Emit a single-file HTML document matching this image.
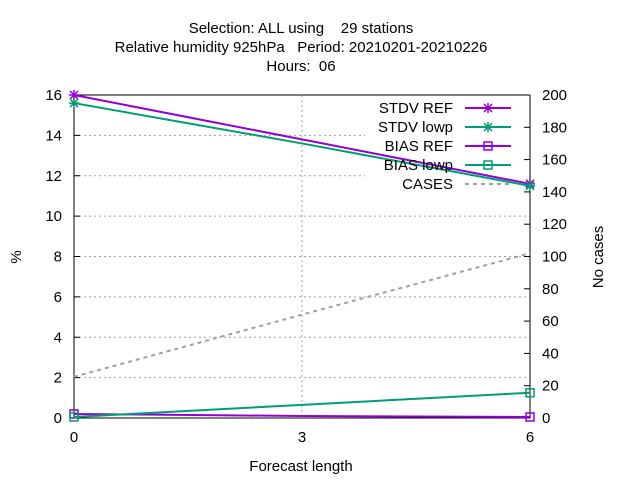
<!DOCTYPE html>
<html><head><meta charset="utf-8"><style>
body{margin:0;background:#fff}
svg{display:block;font-family:"Liberation Sans",sans-serif}
text{white-space:pre}
</style></head><body>
<svg id="c" width="640" height="480" viewBox="0 0 640 480" xmlns="http://www.w3.org/2000/svg" xml:space="preserve">
<text x="301" y="33" font-size="15" text-anchor="middle">Selection: ALL using    29 stations</text>
<text x="301" y="52" font-size="15" text-anchor="middle">Relative humidity 925hPa   Period: 20210201-20210226</text>
<text x="301" y="71" font-size="15" text-anchor="middle">Hours:  06</text>
<text transform="translate(21,257) rotate(-90)" font-size="15" text-anchor="middle">%</text>
<text transform="translate(603,257) rotate(-90)" font-size="15" text-anchor="middle">No cases</text>
<text x="301" y="471" font-size="15" text-anchor="middle">Forecast length</text>
<g id="grid"></g><g id="axes"></g><g id="series"></g><g id="legend"></g>
</svg>
<script>
const xs=[0,3,6];
const stdvRef=[16.0,13.8,11.6];
const stdvLowp=[15.6,13.6,11.5];
const biasRef=[0.2,0.1,0.05];
const biasLowp=[0.05,0.65,1.25];
const cases=[25.5,64,102];
const yTicks=[0,2,4,6,8,10,12,14,16];
const y2Ticks=[0,20,40,60,80,100,120,140,160,180,200];
const xTicks=[0,3,6];
const L=74,R=530,T=95,B=418;
const X=v=>L+(v-0)/6*(R-L);
const Y=v=>B-v/16*(B-T);
const Y2=v=>B-v/200*(B-T);
const NS="http://www.w3.org/2000/svg";
function mk(tag,attrs,parent,text){const e=document.createElementNS(NS,tag);for(const k in attrs)e.setAttribute(k,attrs[k]);if(text!==undefined)e.textContent=text;document.getElementById(parent).appendChild(e);return e;}
yTicks.forEach(v=>{if(v>0&&v<16){const xe=(v>=12)?365:R;
const g=mk('line',{x1:L,x2:xe,y1:Y(v),y2:Y(v),stroke:'#a0a0a0','stroke-dasharray':'2,3','stroke-width':1},'grid');

}
const t=mk('line',{x1:L,x2:L+6,y1:Y(v),y2:Y(v),stroke:'#000'},'axes');


const lb=mk('text',{x:L-12,y:Y(v)+5,'font-size':15,'text-anchor':'end'},'axes',v);

});
y2Ticks.forEach(v=>{const t=mk('line',{x1:R-6,x2:R,y1:Y2(v),y2:Y2(v),stroke:'#000'},'axes');


const lb=mk('text',{x:R+12,y:Y2(v)+5,'font-size':15},'axes',v);

});
xTicks.forEach(v=>{if(v>0&&v<6){const g=mk('line',{x1:X(v),x2:X(v),y1:T,y2:B,stroke:'#a0a0a0','stroke-dasharray':'2,3'},'grid');

}
const lb=mk('text',{x:X(v),y:B+24,'font-size':15,'text-anchor':'middle'},'axes',v);

});
const fr=mk('rect',{x:L,y:T,width:R-L,height:B-T,fill:'none',stroke:'#000'},'axes');


function star(x,y,c,p){const d=`M${x-4},${y-4}L${x+4},${y+4}M${x-4},${y+4}L${x+4},${y-4}M${x-5},${y}L${x+5},${y}M${x},${y-5}L${x},${y+5}`;const e=mk('path',{d,stroke:c,'stroke-width':1.5,fill:'none'},p);return e;}
function sq(x,y,c,p){return mk('rect',{x:x-4,y:y-4,width:8,height:8,fill:'none',stroke:c,'stroke-width':1.5},p);}
const series=[[stdvRef,'#9400d3',star,'STDV REF',Y],[stdvLowp,'#009e73',star,'STDV lowp',Y],[biasRef,'#9400d3',sq,'BIAS REF',Y],[biasLowp,'#009e73',sq,'BIAS lowp',Y]];
series.forEach((s,i)=>{const pts=xs.map((x,j)=>X(x)+','+s[4](s[0][j])).join(' ');
const pl=mk('polyline',{points:pts,fill:'none',stroke:s[1],'stroke-width':2},'series');


[0,xs.length-1].forEach(j=>{const m=s[2](X(xs[j]),s[4](s[0][j]),s[1],'series');

});
const ly=108+i*19;
const lt=mk('text',{x:453,y:ly+5,'font-size':15,'text-anchor':'end'},'legend',s[3]);


const ll=mk('line',{x1:465,x2:511,y1:ly,y2:ly,stroke:s[1],'stroke-width':2},'legend');


const lm=s[2](488,ly,s[1],'legend');

});
const cp=mk('polyline',{points:xs.map((x,j)=>X(x)+','+Y2(cases[j])).join(' '),fill:'none',stroke:'#a0a0a0','stroke-width':2,'stroke-dasharray':'4,4'},'series');


const ct=mk('text',{x:453,y:184+5,'font-size':15,'text-anchor':'end'},'legend','CASES');


const cl=mk('line',{x1:465,x2:511,y1:184,y2:184,stroke:'#a0a0a0','stroke-width':2,'stroke-dasharray':'4,4'},'legend');


</script>
</body></html>
